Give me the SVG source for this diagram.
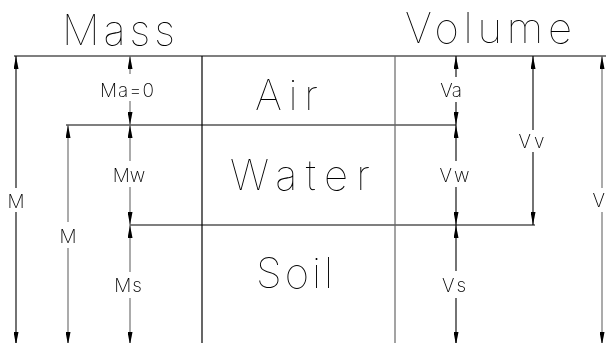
<svg xmlns="http://www.w3.org/2000/svg" width="606" height="343" viewBox="0 0 606 343">
  <style>
    .big { font-family: Inter, "Liberation Sans", sans-serif; font-weight: 100; font-size: 42px; fill: #000; }
    .lbl { font-family: Inter, "Liberation Sans", sans-serif; font-weight: 200; font-size: 19px; fill: #000; text-anchor: middle; }
    .edge { stroke: #000; stroke-width: 1.2; fill: none; }
    .edge-g { stroke: #666; stroke-width: 1.2; fill: none; }
    .dim { stroke: #000; stroke-width: 1.1; fill: none; marker-end: url(#tip); }
    .dim-g { stroke: #666; stroke-width: 1.1; fill: none; marker-end: url(#tip); }
  </style>
  <defs>
    <marker id="tip" viewBox="0 0 13 5" refX="13" refY="2.5" markerWidth="13" markerHeight="5" markerUnits="userSpaceOnUse" orient="auto">
      <path d="M0,0 L13,2.5 L0,5 Z" fill="#000"/>
    </marker>
    <!-- monochrome text rendering -->
    <filter id="mono" x="0" y="0" width="1" height="1">
      <feColorMatrix type="saturate" values="0"/>
    </filter>
  </defs>
  <rect width="606" height="343" fill="#fff"/>

  <g filter="url(#mono)">
    <!-- headings -->
    <g id="heading-mass"><text class="big" x="62" y="45" textLength="113" lengthAdjust="spacing">Mass</text></g>
    <g id="heading-volume"><text class="big" x="405" y="43" textLength="167" lengthAdjust="spacing">Volume</text></g>

    <!-- phase boxes -->
    <g id="phase-air">
      <text class="big" x="255" y="110" textLength="63" lengthAdjust="spacing">Air</text>
    </g>
    <g id="phase-water">
      <text class="big" x="230" y="190" textLength="140" lengthAdjust="spacing">Water</text>
    </g>
    <g id="phase-soil">
      <text class="big" x="256" y="288" textLength="77" lengthAdjust="spacing">Soil</text>
    </g>

    <!-- dimension labels -->
    <g id="label-m-total"><text class="lbl" x="16" y="208">M</text></g>
    <g id="label-m"><text class="lbl" x="68" y="243">M</text></g>
    <g id="label-ma"><text class="lbl" x="127.5" y="97" letter-spacing="1">Ma=0</text></g>
    <g id="label-mw"><text class="lbl" x="129" y="182">Mw</text></g>
    <g id="label-ms"><text class="lbl" x="128.5" y="292" letter-spacing="1">Ms</text></g>
    <g id="label-va"><text class="lbl" x="451" y="97">Va</text></g>
    <g id="label-vw"><text class="lbl" x="455.5" y="182" letter-spacing="2">Vw</text></g>
    <g id="label-vs"><text class="lbl" x="455.5" y="292" letter-spacing="3">Vs</text></g>
    <g id="label-vv"><text class="lbl" x="533" y="148" letter-spacing="3">Vv</text></g>
    <g id="label-v"><text class="lbl" x="605" y="207" style="text-anchor:end">V</text></g>
  </g>

  <g id="connectors">
    <!-- frame and phase boundaries -->
    <line class="edge" x1="14" y1="56" x2="606" y2="56"/>
    <line class="edge" x1="66" y1="125" x2="456" y2="125"/>
    <line class="edge" x1="130" y1="225" x2="535" y2="225"/>
    <line class="edge" x1="202" y1="56" x2="202" y2="343"/>
    <line class="edge-g" x1="395" y1="56" x2="395" y2="343"/>

    <!-- total mass M -->
    <path class="dim" d="M16,188 V56"/>
    <path class="dim" d="M16,212 V345"/>
    <!-- solid + water mass M -->
    <path class="dim-g" d="M68,222 V125"/>
    <path class="dim-g" d="M68,248 V345"/>
    <!-- Ma -->
    <path class="dim-g" d="M130,74 V56"/>
    <path class="dim-g" d="M130,101 V125"/>
    <!-- Mw -->
    <path class="dim-g" d="M130,161 V125"/>
    <path class="dim-g" d="M130,187 V225"/>
    <!-- Ms -->
    <path class="dim-g" d="M130,272 V225"/>
    <path class="dim-g" d="M130,298 V345"/>
    <!-- Va -->
    <path class="dim" d="M456,77 V56"/>
    <path class="dim" d="M456,102 V125"/>
    <!-- Vw -->
    <path class="dim" d="M456,161 V125"/>
    <path class="dim" d="M456,187 V225"/>
    <!-- Vs -->
    <path class="dim" d="M456,271 V225"/>
    <path class="dim" d="M456,298 V345"/>
    <!-- Vv -->
    <path class="dim" d="M533,130 V56"/>
    <path class="dim" d="M533,152 V225"/>
    <!-- V -->
    <path class="dim-g" d="M602,188 V56"/>
    <path class="dim-g" d="M602,212 V345"/>
  </g>
</svg>
